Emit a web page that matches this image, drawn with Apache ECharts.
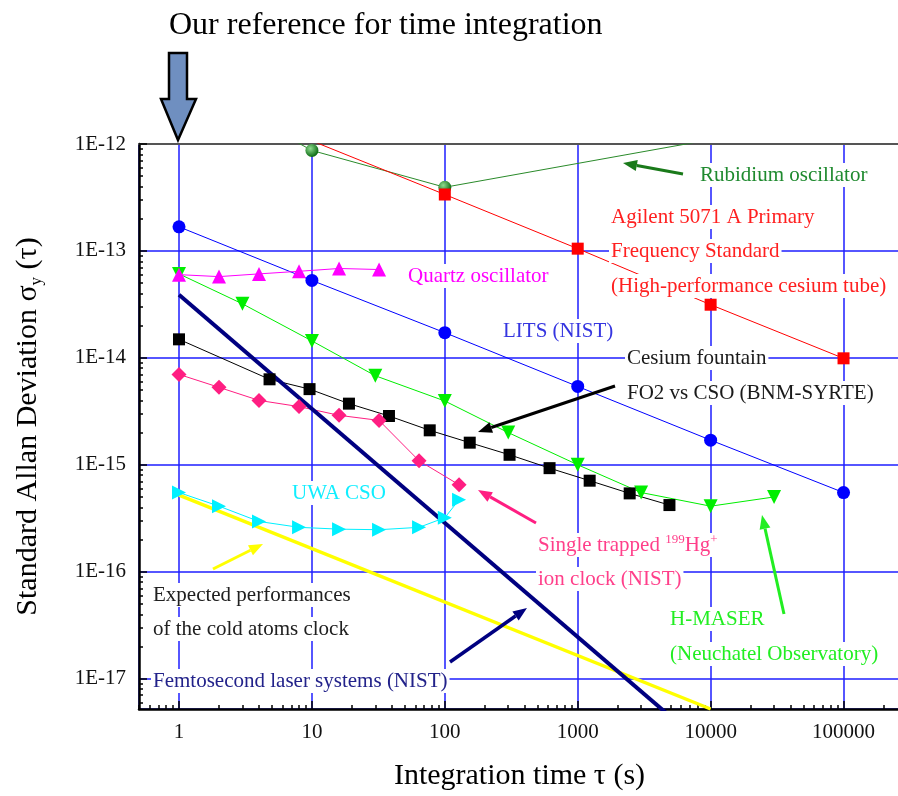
<!DOCTYPE html>
<html>
<head>
<meta charset="utf-8">
<title>Allan deviation of frequency standards</title>
<script src="https://cdn.jsdelivr.net/npm/echarts@6/dist/echarts.min.js"></script>
<style>
  html, body { margin: 0; padding: 0; background: #fff; }
  #chart { width: 898px; height: 796px; }
</style>
</head>
<body>
<div id="chart"></div>
<script>
const FONT = '"Liberation Serif", "Times New Roman", serif';

// axis ranges (tau in s, sigma_y)
const xMin = 0.5, xMax = 2.66e5;
const yMin = 5.2e-18, yMax = 1e-12;
const minorMultiples = [2, 3, 4, 5, 6, 7, 8, 9];

// series
const rubidiumTau = [1, 10, 100, 10000];
const rubidiumSigma = [4.2e-12, 8.7e-13, 3.94e-13, 1.1e-12];

const agilentTau = [10, 100, 1000, 10000, 100000];
const agilentSigma = [1.07e-12, 3.37e-13, 1.05e-13, 3.14e-14, 9.9e-15];

const litsTau = [1, 10, 100, 1000, 10000, 100000];
const litsSigma = [1.68e-13, 5.3e-14, 1.72e-14, 5.4e-15, 1.7e-15, 5.5e-16];

const quartzTau = [1, 2, 4, 8, 16, 32];
const quartzSigma = [6.0e-14, 5.75e-14, 6.1e-14, 6.45e-14, 6.85e-14, 6.7e-14];

const maserTau = [1, 3, 10, 30, 100, 300, 1000, 3000, 10000, 30000];
const maserSigma = [6.1e-14, 3.2e-14, 1.44e-14, 6.8e-15, 3.95e-15, 2.0e-15, 1.0e-15, 5.5e-16, 4.1e-16, 5.0e-16];

const fountainTau = [1, 4.8, 9.6, 19, 38, 77, 154, 307, 614, 1230, 2460, 4900];
const fountainSigma = [1.49e-14, 6.3e-15, 5.1e-15, 3.73e-15, 2.86e-15, 2.1e-15, 1.61e-15, 1.24e-15, 9.3e-16, 7.1e-16, 5.4e-16, 4.2e-16];

const mercuryTau = [1, 2, 4, 8, 16, 32, 64, 128];
const mercurySigma = [7.0e-15, 5.3e-15, 4.0e-15, 3.5e-15, 2.9e-15, 2.6e-15, 1.09e-15, 6.5e-16];

const uwaTau = [1, 2, 4, 8, 16, 32, 64, 100, 128];
const uwaSigma = [5.5e-16, 4.1e-16, 2.95e-16, 2.6e-16, 2.5e-16, 2.47e-16, 2.6e-16, 3.2e-16, 4.7e-16];

const femtoTau = [1, 10000];
const femtoSigma = [3.9e-14, 2.1e-18];

const coldTau = [1, 10000];
const coldSigma = [5.2e-16, 5.2e-18];

function minorLogTicks(lo, hi) {
  const a = Math.log10(lo), b = Math.log10(hi);
  const out = [];
  for (let e = Math.floor(a); e <= Math.ceil(b); e++) {
    minorMultiples.forEach(k => {
      const v = e + Math.log10(k);
      if (v > a && v < b) out.push(v);
    });
  }
  return out;
}

function pairs(tau, sigma) {
  return tau.map((t, i) => [t, sigma[i]]);
}

function lineSeries(name, tau, sigma, color, symbol, size, extra) {
  return Object.assign({
    name,
    type: 'line',
    data: pairs(tau, sigma),
    symbol,
    symbolSize: size,
    clip: true,
    animation: false,
    lineStyle: { color, width: 1 },
    itemStyle: { color },
    emphasis: { disabled: true }
  }, extra || {});
}

// annotation arrows in pixels: [fromX, fromY, tipX, tipY, color, width]
const arrows = [
  [683, 174, 623, 163, '#1a7a1a', 3],
  [615, 386, 478, 432, '#000000', 3],
  [536, 523, 478, 490, '#ff1e82', 3],
  [784, 614, 762, 515, '#22ee22', 3],
  [213, 569, 263, 544, '#ffff00', 3],
  [450, 662, 527, 608, '#000080', 3.5]
];

function arrowGraphics(a) {
  const [x1, y1, x2, y2, color, w] = a;
  const dx = x2 - x1, dy = y2 - y1;
  const len = Math.sqrt(dx * dx + dy * dy);
  const ux = dx / len, uy = dy / len;
  const headL = 14, headW = 5.5;
  const bx = x2 - ux * headL, by = y2 - uy * headL;
  return [
    { type: 'line', z: 100, shape: { x1, y1, x2: bx, y2: by }, style: { stroke: color, lineWidth: w } },
    { type: 'polygon', z: 100, shape: { points: [[x2, y2], [bx - uy * headW, by + ux * headW], [bx + uy * headW, by - ux * headW]] }, style: { fill: color } }
  ];
}

// annotation texts: [x, y, text, color]
const labels = [
  [698, 175, 'Rubidium oscillator', '#1f8a2f'],
  [609, 217, 'Agilent 5071 A Primary', '#ff2020'],
  [609, 251, 'Frequency Standard', '#ff2020'],
  [609, 286, '(High-performance cesium tube)', '#ff2020'],
  [406, 276, 'Quartz oscillator', '#ff00ff'],
  [501, 331, 'LITS (NIST)', '#3535e0'],
  [625, 358, 'Cesium fountain', '#1a1a1a'],
  [625, 393, 'FO2 vs CSO (BNM-SYRTE)', '#1a1a1a'],
  [290, 493, 'UWA CSO', '#10eeff'],
  [536, 545, 'Single trapped {sup|199}Hg{sup|+}', '#ff3f8a'],
  [536, 579, 'ion clock (NIST)', '#ff3f8a'],
  [668, 619, 'H-MASER', '#22ee22'],
  [668, 654, '(Neuchatel Observatory)', '#22ee22'],
  [151, 595, 'Expected performances', '#202020'],
  [151, 629, 'of the cold atoms clock', '#202020'],
  [151, 681, 'Femtosecond laser systems (NIST)', '#22228a']
];

const graphics = [];
labels.forEach(([x, y, text, color]) => {
  graphics.push({
    type: 'text', x, y, z: 101,
    style: {
      text, fill: color, font: '21px ' + FONT,
      verticalAlign: 'middle', align: 'left',
      backgroundColor: '#ffffff', padding: [0, 2],
      lineHeight: 24,
      rich: { sup: { fontSize: 13, lineHeight: 12, verticalAlign: 'top', fontFamily: FONT, fill: color } }
    }
  });
});
arrows.forEach(a => graphics.push(...arrowGraphics(a)));

// the big "reference" arrow above tau = 1 s
graphics.push({
  type: 'polygon', z: 100,
  shape: { points: [[169, 53], [187, 53], [187, 99], [196, 99], [178, 140], [161, 99], [169, 99]] },
  style: { fill: '#6f8fc0', stroke: '#000', lineWidth: 2.5, lineJoin: 'miter' }
});

const chart = echarts.init(document.getElementById('chart'), null, { renderer: 'canvas' });

const gridColor = '#1e1eff';

chart.setOption({
  backgroundColor: '#ffffff',
  animation: false,
  title: {
    text: 'Our reference for time integration',
    left: 164,
    top: 5,
    textStyle: { fontFamily: FONT, fontSize: 32, fontWeight: 'normal', color: '#000' }
  },
  grid: { left: 139, right: -2, top: 144, bottom: 87, outerBoundsMode: 'none' },
  xAxis: [
    {
      type: 'log',
      logBase: 10,
      min: xMin,
      max: xMax,
      name: 'Integration time τ (s)',
      nameLocation: 'middle',
      nameGap: 52,
      nameTextStyle: { fontFamily: FONT, fontSize: 30, color: '#000' },
      axisLine: { onZero: false, lineStyle: { color: '#000', width: 2.5 } },
      axisTick: { inside: true, length: 8, lineStyle: { color: '#000', width: 1.5 } },
      axisLabel: {
        fontFamily: FONT, fontSize: 21, color: '#111', margin: 13,
        showMinLabel: false, showMaxLabel: false,
        formatter: v => String(Math.round(v))
      },
      splitLine: { show: true, lineStyle: { color: gridColor, width: 1.5 } },
      z: 3
    },
    {
      type: 'value',
      position: 'bottom',
      min: Math.log10(xMin),
      max: Math.log10(xMax),
      axisLine: { show: false, onZero: false },
      axisLabel: { show: false },
      splitLine: { show: false },
      axisTick: { show: true, inside: true, length: 4, customValues: minorLogTicks(xMin, xMax), lineStyle: { color: '#000', width: 1.5 } },
      z: 3
    },
    {
      type: 'value',
      position: 'top',
      min: 0,
      max: 1,
      axisLine: { show: true, onZero: false, lineStyle: { color: '#555', width: 2 } },
      axisLabel: { show: false },
      axisTick: { show: false },
      splitLine: { show: false },
      z: 3
    }
  ],
  yAxis: [
    {
      type: 'log',
      logBase: 10,
      min: yMin,
      max: yMax,
      name: 'Standard Allan Deviation σ{sub|y} (τ)',
      nameLocation: 'middle',
      nameGap: 94,
      nameTextStyle: {
        fontFamily: FONT, fontSize: 30, color: '#000', lineHeight: 34,
        rich: { sub: { fontFamily: FONT, fontSize: 17, lineHeight: 17, verticalAlign: 'bottom', color: '#000' } }
      },
      axisLine: { onZero: false, lineStyle: { color: '#000', width: 2.5 } },
      axisTick: { inside: true, length: 8, lineStyle: { color: '#000', width: 1.5 } },
      axisLabel: {
        fontFamily: FONT, fontSize: 21, color: '#111', margin: 13,
        showMinLabel: false,
        formatter: v => '1E' + Math.round(Math.log10(v))
      },
      splitLine: { show: true, lineStyle: { color: gridColor, width: 1.5 } },
      z: 3
    },
    {
      type: 'value',
      position: 'left',
      min: Math.log10(yMin),
      max: Math.log10(yMax),
      axisLine: { show: false, onZero: false },
      axisLabel: { show: false },
      splitLine: { show: false },
      axisTick: { show: true, inside: true, length: 4, customValues: minorLogTicks(yMin, yMax), lineStyle: { color: '#000', width: 1.5 } },
      z: 3
    }
  ],
  series: [
    lineSeries('Expected performances of the cold atoms clock', coldTau, coldSigma, '#ffff00', 'none', 0, { lineStyle: { color: '#ffff00', width: 3.5 } }),
    lineSeries('Rubidium oscillator', rubidiumTau, rubidiumSigma, '#2a8a2a', 'circle', 13, {
      itemStyle: {
        color: { type: 'radial', x: 0.38, y: 0.35, r: 0.65, colorStops: [{ offset: 0, color: '#8fdc8f' }, { offset: 1, color: '#0b6a12' }] }
      }
    }),
    lineSeries('Agilent 5071 A', agilentTau, agilentSigma, '#ff0000', 'rect', 12),
    lineSeries('LITS (NIST)', litsTau, litsSigma, '#0000ff', 'circle', 13),
    lineSeries('H-MASER', maserTau, maserSigma, '#00ee00', 'triangle', 14, { symbolRotate: 180 }),
    lineSeries('Quartz oscillator', quartzTau, quartzSigma, '#ff00ff', 'triangle', 14),
    lineSeries('Cesium fountain FO2 vs CSO', fountainTau, fountainSigma, '#000000', 'rect', 12),
    lineSeries('Single trapped 199Hg+ ion clock', mercuryTau, mercurySigma, '#ff1e82', 'diamond', 15),
    lineSeries('UWA CSO', uwaTau, uwaSigma, '#00f0ff', 'triangle', 14, { symbolRotate: -90 }),
    lineSeries('Femtosecond laser systems (NIST)', femtoTau, femtoSigma, '#000080', 'none', 0, { lineStyle: { color: '#000080', width: 4 } })
  ],
  graphic: graphics
});
</script>
</body>
</html>
